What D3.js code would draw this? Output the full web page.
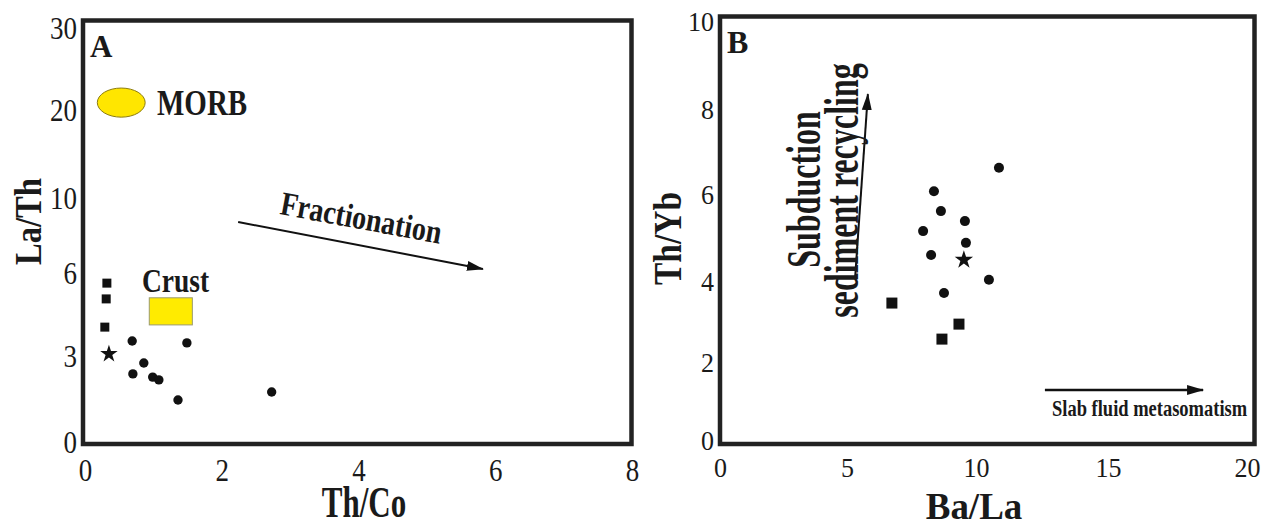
<!DOCTYPE html>
<html lang="en">
<head>
<meta charset="UTF-8">
<title>La/Th vs Th/Co and Th/Yb vs Ba/La</title>
<script src="https://d3js.org/d3.v7.min.js"></script>
<style>
  body { margin: 0; background: #fff; }
  svg { display: block; font-family: "Liberation Serif", "Times New Roman", serif; }
  text { fill: #1a1a1a; }
</style>
</head>
<body>
<svg id="chart" width="1266" height="527"></svg>
<script>
// ---- panel A data (Th/Co vs La/Th) ----
const aXTicks = [0, 2, 4, 6, 8];
const aYTicks = [0, 3, 6, 10, 20, 30];
const aCircleX = [0.69, 1.49, 0.86, 0.70, 0.99, 1.08, 1.36, 2.73];
const aCircleY = [3.58, 3.51, 2.79, 2.41, 2.30, 2.20, 1.50, 1.78];
const aSquareX = [0.32, 0.31, 0.29];
const aSquareY = [5.67, 5.10, 4.08];
const aStarX = [0.35];
const aStarY = [3.11];
const morbX = [0.18, 0.88];
const morbY = [19.3, 22.8];
const crustX = [0.94, 1.57];
const crustY = [4.16, 5.14];
const fracArrow = [[2.24, 8.77], [5.82, 6.27]];

// ---- panel B data (Ba/La vs Th/Yb) ----
const bXTicks = [0, 5, 10, 15, 20];
const bYTicks = [0, 2, 4, 6, 8, 10];
const bCircleX = [8.37, 8.64, 9.57, 7.95, 9.61, 8.26, 10.87, 10.49, 8.76];
const bCircleY = [6.09, 5.63, 5.40, 5.17, 4.90, 4.62, 6.64, 4.05, 3.73];
const bSquareX = [6.74, 9.34, 8.68];
const bSquareY = [3.48, 2.96, 2.59];
const bStarX = [9.53];
const bStarY = [4.51];
const subArrow = [[5.31, 4.07], [5.81, 8.36]];
const slabArrow = [[12.61, 1.31], [18.42, 1.31]];

const svg = d3.select("#chart");
svg.append("rect").attr("width", 1266).attr("height", 527).attr("fill", "#fff");

// arrow head
const defs = svg.append("defs");
defs.append("marker")
    .attr("id", "head")
    .attr("markerUnits", "userSpaceOnUse")
    .attr("markerWidth", 18).attr("markerHeight", 12)
    .attr("refX", 16).attr("refY", 6)
    .attr("orient", "auto")
  .append("path")
    .attr("d", "M0,1 L17,6 L0,11 Z")
    .attr("fill", "#111");

// hand-placed text, stretched vertically like the original figure
function label(g, s, o) {
    g.append("text")
        .attr("transform", `translate(${o.x},${o.y}) rotate(${o.rot || 0}) scale(1,${o.sy || 1})`)
        .attr("font-size", o.size)
        .attr("font-weight", o.bold ? "bold" : "normal")
        .attr("text-anchor", o.anchor || "start")
        .text(s);
}

function axes(g, x, y, xt, yt, box, st) {
    const left = g.append("g")
        .attr("transform", `translate(${box.left},0)`)
        .call(d3.axisLeft(y).tickValues(yt).tickSize(0).tickFormat(d3.format("d")))
        .attr("font-family", null).attr("font-size", null);
    left.select(".domain").remove();
    left.selectAll("text")
        .attr("x", 0).attr("dy", null).attr("y", 0)
        .attr("font-size", st.size)
        .attr("fill", "#222")
        .attr("transform", `translate(${-st.padL},${st.offY}) scale(1,${st.sy})`);

    const bottom = g.append("g")
        .attr("transform", `translate(0,${box.bottom})`)
        .call(d3.axisBottom(x).tickValues(xt).tickSize(0).tickFormat(d3.format("d")))
        .attr("font-family", null).attr("font-size", null);
    bottom.select(".domain").remove();
    bottom.selectAll("text")
        .attr("y", 0).attr("dy", null)
        .attr("font-size", st.size)
        .attr("fill", "#222")
        .attr("transform", `translate(0,${st.offX}) scale(1,${st.sy})`);

    g.append("rect")
        .attr("x", box.left).attr("y", box.top)
        .attr("width", box.right - box.left).attr("height", box.bottom - box.top)
        .attr("fill", "none").attr("stroke", "#222").attr("stroke-width", 4.5);
}

function points(g, x, y, xs, ys, type, size) {
    g.selectAll(null)
        .data(xs.map((v, i) => [v, ys[i]]))
        .enter().append("path")
        .attr("d", d3.symbol().type(type).size(size))
        .attr("transform", d => `translate(${x(d[0])},${y(d[1])})`)
        .attr("fill", "#111");
}

function arrow(g, x, y, a, w) {
    g.append("line")
        .attr("x1", x(a[0][0])).attr("y1", y(a[0][1]))
        .attr("x2", x(a[1][0])).attr("y2", y(a[1][1]))
        .attr("stroke", "#111").attr("stroke-width", w)
        .attr("marker-end", "url(#head)");
}

// ================= panel A =================
const boxA = { left: 83, top: 20.5, right: 631.5, bottom: 444 };
const xA = d3.scaleLinear().domain([0, 8]).range([85, 632]);
const yA = d3.scaleLinear().domain(aYTicks).range([443, 357, 274, 199, 111, 29]);
const gA = svg.append("g");

// MORB field and crust box
gA.append("ellipse")
    .attr("cx", (xA(morbX[0]) + xA(morbX[1])) / 2)
    .attr("cy", (yA(morbY[0]) + yA(morbY[1])) / 2)
    .attr("rx", (xA(morbX[1]) - xA(morbX[0])) / 2)
    .attr("ry", (yA(morbY[0]) - yA(morbY[1])) / 2)
    .attr("fill", "#ffe600").attr("stroke", "#8c7c10").attr("stroke-width", 1);
gA.append("rect")
    .attr("x", xA(crustX[0])).attr("y", yA(crustY[1]))
    .attr("width", xA(crustX[1]) - xA(crustX[0]))
    .attr("height", yA(crustY[0]) - yA(crustY[1]))
    .attr("fill", "#ffeb00").attr("stroke", "#9a9a70").attr("stroke-width", 1);

axes(gA, xA, yA, aXTicks, aYTicks, boxA, { size: 27, sy: 1.15, padL: 6, offY: 9, offX: 37 });

points(gA, xA, yA, aCircleX, aCircleY, d3.symbolCircle, 69);
points(gA, xA, yA, aSquareX, aSquareY, d3.symbolSquare, 81);
points(gA, xA, yA, aStarX, aStarY, d3.symbolStar, 95);
arrow(gA, xA, yA, fracArrow, 2);

label(gA, "A", { x: 90, y: 57, size: 31, bold: true });
label(gA, "MORB", { x: 157, y: 115, size: 29, bold: true, sy: 1.2 });
label(gA, "Crust", { x: 142, y: 292, size: 27.5, bold: true, sy: 1.25 });
label(gA, "Fractionation", { x: 279, y: 214, size: 28, bold: true, sy: 1.2, rot: 10.5 });
label(gA, "Th/Co", { x: 364, y: 517, size: 31, bold: true, sy: 1.4, anchor: "middle" });
label(gA, "La/Th", { x: 41, y: 221.5, size: 32.6, bold: true, sy: 1.17, rot: -90, anchor: "middle" });

// ================= panel B =================
const boxB = { left: 720, top: 16.5, right: 1254.5, bottom: 444 };
const xB = d3.scaleLinear().domain(bXTicks).range([720, 847, 976, 1108, 1247]);
const yB = d3.scaleLinear().domain(bYTicks).range([441, 363, 282, 195, 110, 21.5]);
const gB = svg.append("g");

axes(gB, xB, yB, bXTicks, bYTicks, boxB, { size: 26, sy: 1.05, padL: 6, offY: 8.5, offX: 33 });

points(gB, xB, yB, bCircleX, bCircleY, d3.symbolCircle, 79);
points(gB, xB, yB, bSquareX, bSquareY, d3.symbolSquare, 121);
points(gB, xB, yB, bStarX, bStarY, d3.symbolStar, 105);
arrow(gB, xB, yB, subArrow, 2);
arrow(gB, xB, yB, slabArrow, 2.5);

label(gB, "B", { x: 727, y: 53, size: 32, bold: true });
label(gB, "Subduction", { x: 820, y: 189.5, size: 32, bold: true, sy: 1.5, rot: -90, anchor: "middle" });
label(gB, "sediment recycling", { x: 858, y: 190.5, size: 32, bold: true, sy: 1.5, rot: -90, anchor: "middle" });
label(gB, "Slab fluid metasomatism", { x: 1052, y: 416, size: 18.5, bold: true, sy: 1.3 });
label(gB, "Ba/La", { x: 974, y: 519, size: 37, bold: true, sy: 1.05, anchor: "middle" });
label(gB, "Th/Yb", { x: 681, y: 238.5, size: 33.5, bold: true, sy: 1.22, rot: -90, anchor: "middle" });
</script>
</body>
</html>
